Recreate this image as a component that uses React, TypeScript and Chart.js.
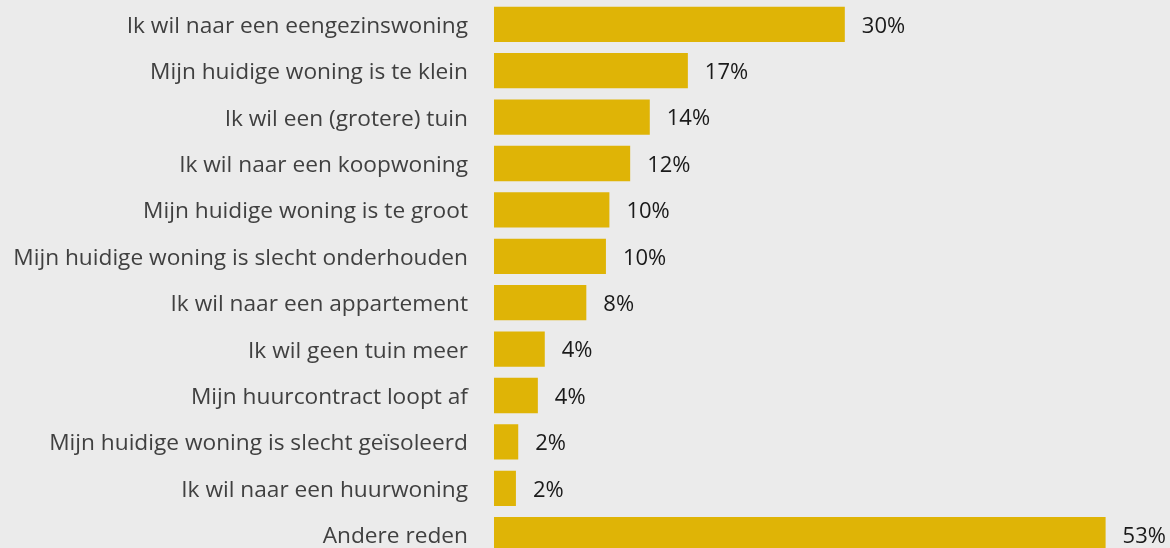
import React, { useEffect, useRef } from "react";
import { Chart, registerables } from "chart.js";

Chart.register(...registerables);

const categories = [
  "Ik wil naar een eengezinswoning",
  "Mijn huidige woning is te klein",
  "Ik wil een (grotere) tuin",
  "Ik wil naar een koopwoning",
  "Mijn huidige woning is te groot",
  "Mijn huidige woning is slecht onderhouden",
  "Ik wil naar een appartement",
  "Ik wil geen tuin meer",
  "Mijn huurcontract loopt af",
  "Mijn huidige woning is slecht geïsoleerd",
  "Ik wil naar een huurwoning",
  "Andere reden",
];

const values = [30.4, 16.8, 13.5, 11.8, 10.0, 9.7, 8.0, 4.4, 3.8, 2.1, 1.9, 53.0];

const BAR_COLOR = "#dfb406";
const BG = "#ebebeb";
const FONT = "'Open Sans', 'Noto Sans', sans-serif";

const valueLabels = {
  id: "valueLabels",
  afterDatasetsDraw(chart: any) {
    const ctx = chart.ctx;
    const meta = chart.getDatasetMeta(0);
    ctx.save();
    ctx.font = `22px ${FONT}`;
    ctx.fillStyle = "#1a1a1a";
    ctx.textAlign = "left";
    ctx.textBaseline = "middle";
    meta.data.forEach((bar: any, i: number) => {
      const v = chart.data.datasets[0].data[i] as number;
      ctx.fillText(`${Math.round(v)}%`, bar.x + 17, bar.y + 2);
    });
    ctx.restore();
  },
};

export default function App() {
  const ref = useRef<HTMLCanvasElement>(null);
  useEffect(() => {
    if (!ref.current) return;
    const chart = new Chart(ref.current, {
      type: "bar",
      data: {
        labels: categories,
        datasets: [
          {
            data: values,
            backgroundColor: BAR_COLOR,
            borderWidth: 0,
            barPercentage: 0.76,
            categoryPercentage: 1,
          },
        ],
      },
      options: {
        indexAxis: "y",
        responsive: false,
        animation: false,
        layout: { padding: { top: 1.1, bottom: 2.1, left: 0, right: 6.7 } },
        plugins: {
          legend: { display: false },
          tooltip: { enabled: false },
        },
        scales: {
          x: {
            display: false,
            min: 0,
            max: 58,
          },
          y: {
            grid: { display: false, drawTicks: false },
            border: { display: false },
            ticks: {
              color: "#404040",
              font: { family: FONT, size: 22.7 },
              padding: 26,
              labelOffset: 2,
              autoSkip: false,
            },
            afterFit: (scale: any) => {
              scale.width = 494;
              scale.paddingTop = 0;
              scale.paddingBottom = 0;
            },
          },
        },
      },
      plugins: [valueLabels],
    });
    return () => chart.destroy();
  }, []);
  return (
    <div
      style={{
        position: "absolute",
        left: 0,
        top: 0,
        width: 1170,
        height: 548,
        overflow: "hidden",
        background: BG,
      }}
    >
      <canvas ref={ref} width={1170} height={560} style={{ display: "block" }} />
    </div>
  );
}
